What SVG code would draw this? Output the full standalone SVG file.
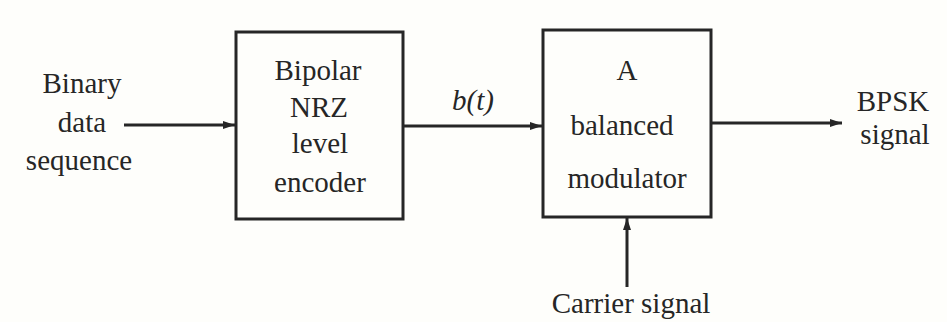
<svg xmlns="http://www.w3.org/2000/svg" width="947" height="322" viewBox="0 0 947 322">
<defs>
<style>
text{font-size:29px;fill:#262626;text-anchor:middle}
.box{fill:none;stroke:#262626;stroke-width:3}
.wire{fill:none;stroke:#262626;stroke-width:3}
</style>
<marker id="arr" viewBox="0 0 12 8" refX="12" refY="4" markerWidth="12" markerHeight="8" markerUnits="userSpaceOnUse" orient="auto">
<path d="M0,0 L12,4 L0,8 Z" fill="#262626"/>
</marker>
</defs>
<rect width="947" height="322" fill="#fefefb"/>
<g id="input-label">
<text font-family="Liberation Serif" x="82" y="93">Binary</text>
<text font-family="Liberation Serif" x="82" y="132">data</text>
<text font-family="Liberation Serif" x="79" y="170">sequence</text>
</g>
<g id="encoder">
<rect class="box" x="236" y="32" width="167" height="187"/>
<text font-family="Liberation Serif" x="318" y="80">Bipolar</text>
<text font-family="Liberation Serif" x="319" y="117">NRZ</text>
<text font-family="Liberation Serif" x="320" y="153">level</text>
<text font-family="Liberation Serif" x="320" y="192">encoder</text>
</g>
<g id="modulator">
<rect class="box" x="543" y="30" width="168" height="187"/>
<text font-family="Liberation Serif" x="627" y="80">A</text>
<text font-family="Liberation Serif" x="622" y="135">balanced</text>
<text font-family="Liberation Serif" x="627" y="188">modulator</text>
</g>
<g id="output-label">
<text font-family="Liberation Serif" x="893" y="111">BPSK</text>
<text font-family="Liberation Serif" x="895" y="144">signal</text>
</g>
<g id="carrier-label">
<text font-family="Liberation Serif" x="631" y="313">Carrier signal</text>
</g>
<g id="connectors">
<line class="wire" x1="124" y1="125" x2="235" y2="125" marker-end="url(#arr)"/>
<line class="wire" x1="403" y1="126" x2="542" y2="126" marker-end="url(#arr)"/>
<text font-family="Liberation Serif" x="473" y="110" font-style="italic">b(t)</text>
<line class="wire" x1="711" y1="123" x2="842" y2="123" marker-end="url(#arr)"/>
<line class="wire" x1="627" y1="287" x2="627" y2="218" marker-end="url(#arr)"/>
</g>
</svg>
